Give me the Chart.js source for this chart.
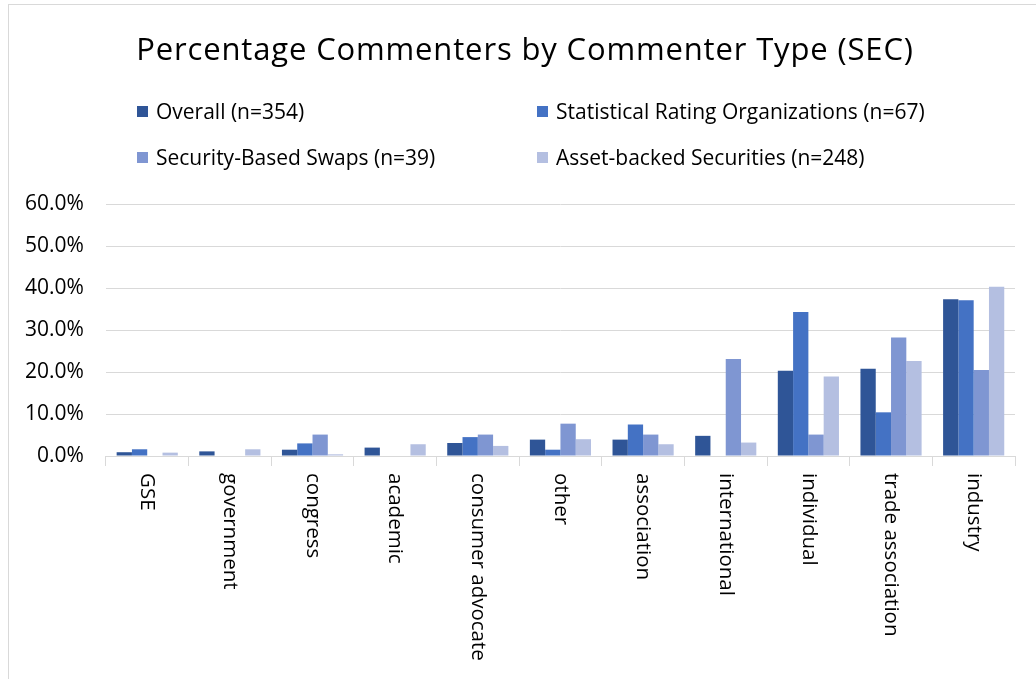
<!DOCTYPE html>
<html>
<head>
<meta charset="utf-8">
<script src="https://cdn.jsdelivr.net/npm/chart.js@4.4.1/dist/chart.umd.min.js"></script>
<style>
  html, body { margin: 0; padding: 0; background: #fff; }
  body { width: 1036px; height: 679px; position: relative; overflow: hidden; font-family: "Open Sans", sans-serif; }
  #frame { position: absolute; left: 8px; top: 4px; width: 1100px; height: 800px; border: 1px solid #d9d9d9; }
  #title { position: absolute; left: 0; top: 27px; width: 1050px; text-align: center; font-size: 31px; color: #000; letter-spacing: 0.85px; }
  .leg { position: absolute; font-size: 21px; color: #000; white-space: nowrap; }
  .leg span { display: inline-block; width: 11px; height: 11px; margin-right: 8px; vertical-align: 2px; }
  #wrap { position: absolute; left: 0; top: 0; width: 1036px; height: 679px; }
</style>
</head>
<body>
<div id="frame"></div>
<div id="wrap"><canvas id="commentersChart"></canvas></div>
<div id="title">Percentage Commenters by Commenter Type (SEC)</div>
<div id="legend"></div>
<script>
// Категории (тип комментатора)
const categories = ['GSE', 'government', 'congress', 'academic', 'consumer advocate', 'other',
    'association', 'international', 'individual', 'trade association', 'industry'];

// Названия рядов
const seriesNames = ['Overall (n=354)', 'Statistical Rating Organizations (n=67)',
    'Security-Based Swaps (n=39)', 'Asset-backed Securities (n=248)'];

// Доли, %
const overall = [0.9, 1.1, 1.5, 2.0, 3.1, 3.9, 3.9, 4.8, 20.3, 20.8, 37.3];
const ratingOrgs = [1.6, 0, 3.0, 0, 4.5, 1.5, 7.5, 0, 34.3, 10.4, 37.1];
const swaps = [0, 0, 5.1, 0, 5.1, 7.7, 5.1, 23.1, 5.1, 28.2, 20.5];
const assetBacked = [0.8, 1.6, 0.4, 2.8, 2.4, 4.0, 2.8, 3.2, 18.9, 22.6, 40.3];

// Метки оси Y
const yTicks = [0, 10, 20, 30, 40, 50, 60];

const colors = ['#2f5597', '#4472c4', '#7f96d2', '#b4bfe1'];

// Легенда в две колонки
const legendPos = [[137, 97], [537, 97], [137, 143], [537, 143]];
const legendBox = document.getElementById('legend');
seriesNames.forEach((name, i) => {
    const el = document.createElement('div');
    el.className = 'leg';
    el.style.left = legendPos[i][0] + 'px';
    el.style.top = legendPos[i][1] + 'px';
    el.innerHTML = '<span style="background:' + colors[i] + '"></span>' + name;
    legendBox.appendChild(el);
});

// Подписи оси X, повернутые сверху вниз
const verticalLabels = {
    id: 'verticalLabels',
    afterDraw(chart) {
        const ctx = chart.ctx;
        const xScale = chart.scales.x;
        ctx.save();
        ctx.font = '20.5px "Open Sans"';
        ctx.fillStyle = '#000';
        ctx.textAlign = 'left';
        ctx.textBaseline = 'middle';
        categories.forEach((label, i) => {
            ctx.save();
            ctx.translate(xScale.getPixelForValue(i), xScale.top + 17);
            ctx.rotate(Math.PI / 2);
            ctx.fillText(label, 0, 0);
            ctx.restore();
        });
        ctx.restore();
    }
};

const datasets = [overall, ratingOrgs, swaps, assetBacked].map((data, i) => ({
    label: seriesNames[i],
    data: data,
    backgroundColor: colors[i],
    categoryPercentage: 0.74,
    barPercentage: 1.0
}));

new Chart(document.getElementById('commentersChart'), {
    type: 'bar',
    data: { labels: categories, datasets: datasets },
    plugins: [verticalLabels],
    options: {
        responsive: true,
        maintainAspectRatio: false,
        animation: false,
        layout: { padding: { left: 3, right: 21, top: 204, bottom: 213 } },
        plugins: {
            legend: { display: false },
            title: { display: false },
            tooltip: { enabled: false }
        },
        scales: {
            x: {
                grid: { drawOnChartArea: false, drawTicks: true, tickLength: 10, color: '#d9d9d9', offset: true },
                border: { color: '#d9d9d9' },
                ticks: { display: false }
            },
            y: {
                min: 0,
                max: 60,
                afterBuildTicks: axis => { axis.ticks = yTicks.map(v => ({ value: v })); },
                grid: { color: '#d9d9d9', drawTicks: false },
                border: { display: false },
                ticks: {
                    padding: 22,
                    color: '#000',
                    font: { family: 'Open Sans', size: 21 },
                    callback: v => v.toFixed(1) + '%'
                }
            }
        }
    }
});
</script>
</body>
</html>
